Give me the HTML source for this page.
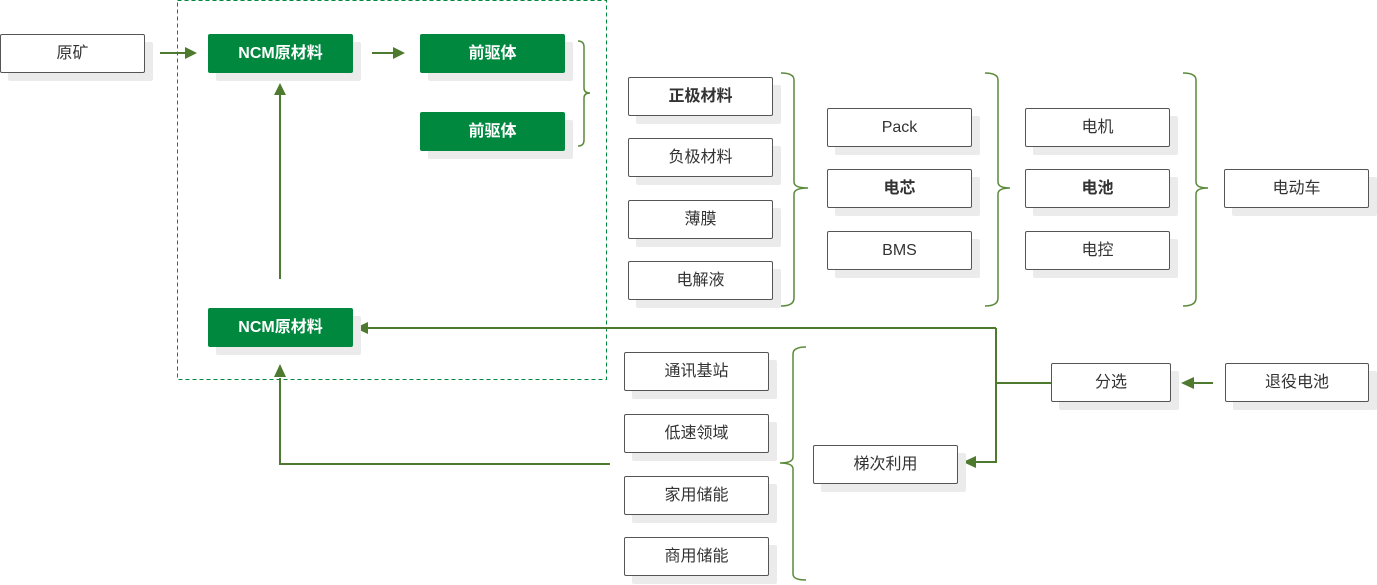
<!DOCTYPE html>
<html><head><meta charset="utf-8"><style>
body{margin:0;width:1377px;height:585px;background:#fff;position:relative;overflow:hidden;font-family:"Liberation Sans","Noto Sans CJK SC",sans-serif}
.b{position:absolute;width:143px;height:37px;border:1px solid #555;border-radius:2px;background:#fff;box-shadow:8px 8px 0 #ebebeb;text-align:center;line-height:37px;font-size:16px;color:#333}
.g{background:#00883f;border-color:#00883f;color:#fff;font-weight:bold}
.bd{font-weight:bold}
svg{position:absolute;left:0;top:0}
</style></head><body>
<svg width="1377" height="585">
<rect x="177.5" y="0.5" width="429" height="379" fill="none" stroke="#00883f" stroke-dasharray="4,3"/>
<g fill="none" stroke="#5a8a3a" stroke-width="1.5">
<path d="M578 41 Q584 41 584 47 V88 Q584 93 590 93 Q584 93 584 98 V140 Q584 146 578 146"/>
<path d="M781 73 Q794 73 794 80 V182 Q794 188 808 188 Q794 188 794 194 V298 Q794 306 781 306"/>
<path d="M985 73 Q998 73 998 80 V182 Q998 188 1010 188 Q998 188 998 194 V298 Q998 306 985 306"/>
<path d="M1183 73 Q1196 73 1196 80 V182 Q1196 188 1208 188 Q1196 188 1196 194 V298 Q1196 306 1183 306"/>
<path d="M806 347 Q793 347 793 354 V457 Q793 463 780 463 Q793 463 793 469 V574 Q793 580 806 580"/>
</g>
<g fill="none" stroke="#4d7a2e" stroke-width="2">
<path d="M160 53 H187"/><path d="M372 53 H396"/>
<path d="M280 279 V93"/>
<path d="M996 328 H367"/><path d="M996 328 V462 H975"/><path d="M1051 383 H996"/>
<path d="M1213 383 H1193"/>
<path d="M610 464 H280 V378"/>
</g>
<g fill="#4d7a2e">
<path d="M197 53 L185 47 L185 59Z"/><path d="M405 53 L393 47 L393 59Z"/>
<path d="M280 83 L274 95 L286 95Z"/>
<path d="M355 328 L368 322 L368 334Z"/>
<path d="M963 462 L976 456 L976 468Z"/>
<path d="M1181 383 L1194 377 L1194 389Z"/>
<path d="M280 364 L274 377 L286 377Z"/>
</g>
</svg>
<div class="b" style="left:0;top:34px">原矿</div>
<div class="b g" style="left:208px;top:34px">NCM原材料</div>
<div class="b g" style="left:420px;top:34px">前驱体</div>
<div class="b g" style="left:420px;top:112px">前驱体</div>
<div class="b bd" style="left:628px;top:77px">正极材料</div>
<div class="b" style="left:628px;top:138px">负极材料</div>
<div class="b" style="left:628px;top:200px">薄膜</div>
<div class="b" style="left:628px;top:261px">电解液</div>
<div class="b" style="left:827px;top:108px">Pack</div>
<div class="b bd" style="left:827px;top:169px">电芯</div>
<div class="b" style="left:827px;top:231px">BMS</div>
<div class="b" style="left:1025px;top:108px">电机</div>
<div class="b bd" style="left:1025px;top:169px">电池</div>
<div class="b" style="left:1025px;top:231px">电控</div>
<div class="b" style="left:1224px;top:169px">电动车</div>
<div class="b g" style="left:208px;top:308px">NCM原材料</div>
<div class="b" style="left:624px;top:352px">通讯基站</div>
<div class="b" style="left:624px;top:414px">低速领域</div>
<div class="b" style="left:624px;top:476px">家用储能</div>
<div class="b" style="left:624px;top:537px">商用储能</div>
<div class="b" style="left:813px;top:445px">梯次利用</div>
<div class="b" style="left:1051px;top:363px;width:118px">分选</div>
<div class="b" style="left:1225px;top:363px;width:142px">退役电池</div>
</body></html>
